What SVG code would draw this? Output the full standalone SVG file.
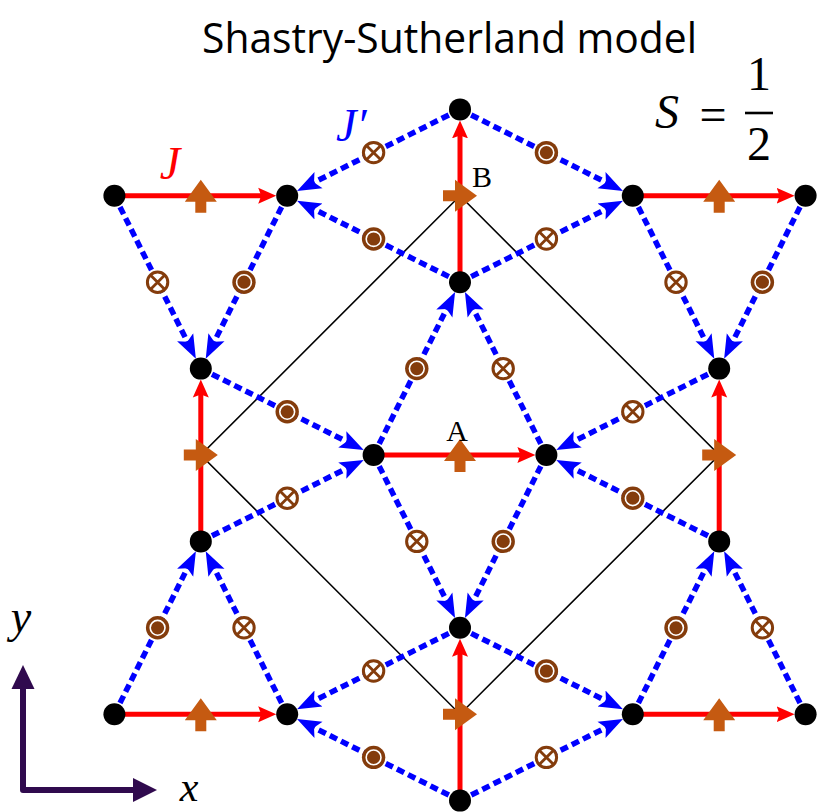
<svg xmlns="http://www.w3.org/2000/svg" width="818" height="812" viewBox="0 0 818 812">
<style>
.jp{fill:none;stroke:#0000FF;stroke-width:5.5;stroke-dasharray:8 4.5;marker-end:url(#mb)}
.j{fill:none;stroke:#FF0000;stroke-width:5;marker-end:url(#mr)}
.node{fill:#000}
.it{font-family:"Liberation Serif","Times New Roman",serif;font-style:italic}
.rm{font-family:"Liberation Serif","Times New Roman",serif}
</style>
<defs>
<marker id="mb" viewBox="0 0 26 20" refX="6" refY="10" markerWidth="26" markerHeight="20" markerUnits="userSpaceOnUse" orient="auto">
<path d="M0,1 L24,10 L0,19 L5,10 Z" fill="#0000FF"/>
</marker>
<marker id="mr" viewBox="0 0 20 20" refX="4" refY="10" markerWidth="20" markerHeight="20" markerUnits="userSpaceOnUse" orient="auto">
<path d="M0,2 L18,10 L0,18 L3,10 Z" fill="#FF0000"/>
</marker>
<g id="cx"><circle r="10.2" fill="#fff" stroke="#843C0C" stroke-width="3"/><path d="M-7.2,-7.2L7.2,7.2M7.2,-7.2L-7.2,7.2" stroke="#843C0C" stroke-width="2.8"/></g>
<g id="cd"><circle r="11.7" fill="#843C0C"/><circle r="7.4" fill="none" stroke="#fff" stroke-width="1.6"/></g>
<path id="oup" d="M0,-16 L16,6 L5.5,6 L5.5,17 L-5.5,17 L-5.5,6 L-16,6 Z" fill="#C55A11"/>
<path id="ort" d="M17,0 L-5,16 L-5,5.5 L-17,5.5 L-17,-5.5 L-5,-5.5 L-5,-16 Z" fill="#C55A11"/>
</defs>
<rect width="818" height="812" fill="#fff"/>

<text x="202" y="53" font-family="'Open Sans','Noto Sans',sans-serif" font-size="42" textLength="495" lengthAdjust="spacingAndGlyphs" fill="#000">Shastry-Sutherland model</text>

<polygon id="unitcell" points="460,195.8 719.2,455 460,714.2 200.8,455" fill="none" stroke="#000" stroke-width="1.6"/>

<g id="connectors">
<g id="jprime">
<path class="jp" d="M460,109.4 L313.14,182.83"/>
<path class="jp" d="M460,109.4 L606.86,182.83"/>
<path class="jp" d="M460,282.2 L313.14,208.77"/>
<path class="jp" d="M460,282.2 L606.86,208.77"/>
<path class="jp" d="M373.6,455 L447.03,308.14"/>
<path class="jp" d="M546.4,455 L472.97,308.14"/>
<path class="jp" d="M114.4,195.8 L187.83,342.66"/>
<path class="jp" d="M287.2,195.8 L213.77,342.66"/>
<path class="jp" d="M632.8,195.8 L706.23,342.66"/>
<path class="jp" d="M805.6,195.8 L732.17,342.66"/>
<path class="jp" d="M200.8,368.6 L347.66,442.03"/>
<path class="jp" d="M200.8,541.4 L347.66,467.97"/>
<path class="jp" d="M719.2,368.6 L572.34,442.03"/>
<path class="jp" d="M719.2,541.4 L572.34,467.97"/>
<path class="jp" d="M373.6,455 L447.03,601.86"/>
<path class="jp" d="M546.4,455 L472.97,601.86"/>
<path class="jp" d="M114.4,714.2 L187.83,567.34"/>
<path class="jp" d="M287.2,714.2 L213.77,567.34"/>
<path class="jp" d="M632.8,714.2 L706.23,567.34"/>
<path class="jp" d="M805.6,714.2 L732.17,567.34"/>
<path class="jp" d="M460,627.8 L313.14,701.23"/>
<path class="jp" d="M460,800.6 L313.14,727.17"/>
<path class="jp" d="M460,627.8 L606.86,701.23"/>
<path class="jp" d="M460,800.6 L606.86,727.17"/>
</g>
<g id="jbonds">
<path class="j" d="M114.4,195.8 L262.2,195.8"/>
<path class="j" d="M632.8,195.8 L780.6,195.8"/>
<path class="j" d="M460,282.2 L460,134.4"/>
<path class="j" d="M200.8,541.4 L200.8,393.6"/>
<path class="j" d="M373.6,455 L521.4,455"/>
<path class="j" d="M719.2,541.4 L719.2,393.6"/>
<path class="j" d="M460,800.6 L460,652.8"/>
<path class="j" d="M114.4,714.2 L262.2,714.2"/>
<path class="j" d="M632.8,714.2 L780.6,714.2"/>
</g>
</g>

<g id="dm-vectors">
<use href="#cx" x="373.6" y="152.6"/>
<use href="#cd" x="546.4" y="152.6"/>
<use href="#cd" x="373.6" y="239"/>
<use href="#cx" x="546.4" y="239"/>
<use href="#cd" x="416.8" y="368.6"/>
<use href="#cx" x="503.2" y="368.6"/>
<use href="#cx" x="157.6" y="282.2"/>
<use href="#cd" x="244" y="282.2"/>
<use href="#cx" x="676" y="282.2"/>
<use href="#cd" x="762.4" y="282.2"/>
<use href="#cd" x="287.2" y="411.8"/>
<use href="#cx" x="287.2" y="498.2"/>
<use href="#cx" x="632.8" y="411.8"/>
<use href="#cd" x="632.8" y="498.2"/>
<use href="#cx" x="416.8" y="541.4"/>
<use href="#cd" x="503.2" y="541.4"/>
<use href="#cd" x="157.6" y="627.8"/>
<use href="#cx" x="244" y="627.8"/>
<use href="#cd" x="676" y="627.8"/>
<use href="#cx" x="762.4" y="627.8"/>
<use href="#cx" x="373.6" y="671"/>
<use href="#cd" x="373.6" y="757.4"/>
<use href="#cd" x="546.4" y="671"/>
<use href="#cx" x="546.4" y="757.4"/>
</g>

<g id="nodes">
<g id="n1"><circle class="node" cx="460" cy="109.4" r="11"/></g>
<g id="n2"><circle class="node" cx="114.4" cy="195.8" r="11"/></g>
<g id="n3"><circle class="node" cx="287.2" cy="195.8" r="11"/></g>
<g id="n4"><circle class="node" cx="632.8" cy="195.8" r="11"/></g>
<g id="n5"><circle class="node" cx="805.6" cy="195.8" r="11"/></g>
<g id="n6"><circle class="node" cx="460" cy="282.2" r="11"/></g>
<g id="n7"><circle class="node" cx="200.8" cy="368.6" r="11"/></g>
<g id="n8"><circle class="node" cx="719.2" cy="368.6" r="11"/></g>
<g id="n9"><circle class="node" cx="373.6" cy="455" r="11"/></g>
<g id="n10"><circle class="node" cx="546.4" cy="455" r="11"/></g>
<g id="n11"><circle class="node" cx="200.8" cy="541.4" r="11"/></g>
<g id="n12"><circle class="node" cx="719.2" cy="541.4" r="11"/></g>
<g id="n13"><circle class="node" cx="460" cy="627.8" r="11"/></g>
<g id="n14"><circle class="node" cx="114.4" cy="714.2" r="11"/></g>
<g id="n15"><circle class="node" cx="287.2" cy="714.2" r="11"/></g>
<g id="n16"><circle class="node" cx="632.8" cy="714.2" r="11"/></g>
<g id="n17"><circle class="node" cx="805.6" cy="714.2" r="11"/></g>
<g id="n18"><circle class="node" cx="460" cy="800.6" r="11"/></g>
</g>

<g id="dimer-arrows">
<use href="#oup" x="200.8" y="195.8"/>
<use href="#oup" x="719.2" y="195.8"/>
<use href="#ort" x="460" y="195.8"/>
<use href="#ort" x="200.8" y="455"/>
<use href="#oup" x="460" y="455"/>
<use href="#ort" x="719.2" y="455"/>
<use href="#ort" x="460" y="714.2"/>
<use href="#oup" x="200.8" y="714.2"/>
<use href="#oup" x="719.2" y="714.2"/>
</g>

<g id="labels">
<text class="it" x="170" y="179" font-size="46" fill="#FF0000" text-anchor="middle">J</text>
<text class="it" x="336" y="141" font-size="46" fill="#0000FF">J′</text>
<text class="rm" x="457" y="441" font-size="30" fill="#000" text-anchor="middle">A</text>
<text class="rm" x="472" y="187" font-size="30" fill="#000">B</text>
<text class="it" x="655" y="128" font-size="48" fill="#000">S</text>
<text class="rm" x="713" y="131" font-size="48" fill="#000" text-anchor="middle">=</text>
<line x1="745" y1="113" x2="773" y2="113" stroke="#000" stroke-width="2.6"/>
<text class="rm" x="759" y="90" font-size="48" fill="#000" text-anchor="middle">1</text>
<text class="rm" x="759" y="160" font-size="48" fill="#000" text-anchor="middle">2</text>
</g>

<g id="axes">
<path d="M23,688 L23,790 L134,790" fill="none" stroke="#300A4E" stroke-width="6" stroke-linejoin="round"/>
<polygon points="23,665 11.5,689 34.5,689" fill="#300A4E"/>
<polygon points="157,790 133,778 133,802" fill="#300A4E"/>
<text class="it" x="21" y="632" font-size="46" fill="#000" text-anchor="middle">y</text>
<text class="it" x="189" y="801" font-size="42" fill="#000" text-anchor="middle">x</text>
</g>
</svg>
